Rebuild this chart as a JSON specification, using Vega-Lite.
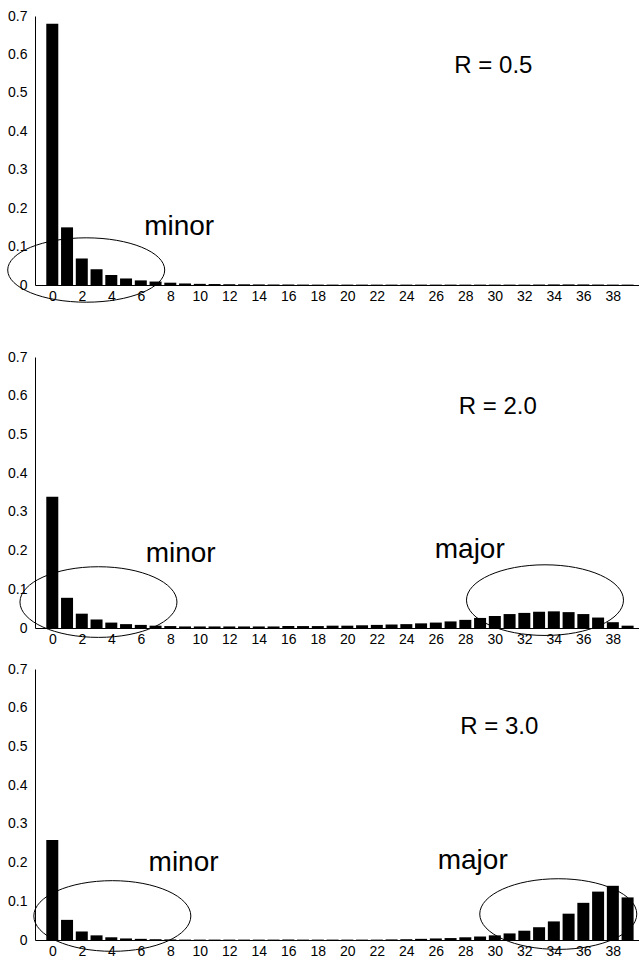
{
"$schema":"https://vega.github.io/schema/vega-lite/v6.json",
"padding":{"left":5,"top":9,"right":0,"bottom":0},
"background":"white",
"config":{"view":{"stroke":null},"font":"Liberation Sans",
 "axis":{"domainColor":"black","domainWidth":1,"labelColor":"black","labelFont":"Liberation Sans","labelFontSize":14,"ticks":false,"tickSize":0,"grid":false,"labelFlush":false,"labelOverlap":false},
 "axisX":{"labelPadding":4},"axisY":{"labelPadding":8}},
"datasets":{
"bars":[
{"R":"0.5","k":0,"p":0.68},{"R":"0.5","k":1,"p":0.150},{"R":"0.5","k":2,"p":0.069},{"R":"0.5","k":3,"p":0.041},{"R":"0.5","k":4,"p":0.026},{"R":"0.5","k":5,"p":0.017},{"R":"0.5","k":6,"p":0.012},{"R":"0.5","k":7,"p":0.009},{"R":"0.5","k":8,"p":0.006},{"R":"0.5","k":9,"p":0.004},
{"R":"0.5","k":10,"p":0.003},{"R":"0.5","k":11,"p":0.0025},{"R":"0.5","k":12,"p":0.002},{"R":"0.5","k":13,"p":0.0018},{"R":"0.5","k":14,"p":0.0015},{"R":"0.5","k":15,"p":0.0013},{"R":"0.5","k":16,"p":0.0012},{"R":"0.5","k":17,"p":0.0011},{"R":"0.5","k":18,"p":0.001},{"R":"0.5","k":19,"p":0.001},
{"R":"0.5","k":20,"p":0.001},{"R":"0.5","k":21,"p":0.001},{"R":"0.5","k":22,"p":0.001},{"R":"0.5","k":23,"p":0.001},{"R":"0.5","k":24,"p":0.001},{"R":"0.5","k":25,"p":0.001},{"R":"0.5","k":26,"p":0.001},{"R":"0.5","k":27,"p":0.001},{"R":"0.5","k":28,"p":0.001},{"R":"0.5","k":29,"p":0.001},
{"R":"0.5","k":30,"p":0.001},{"R":"0.5","k":31,"p":0.001},{"R":"0.5","k":32,"p":0.001},{"R":"0.5","k":33,"p":0.0012},{"R":"0.5","k":34,"p":0.0015},{"R":"0.5","k":35,"p":0.0015},{"R":"0.5","k":36,"p":0.0015},{"R":"0.5","k":37,"p":0.0012},{"R":"0.5","k":38,"p":0.001},{"R":"0.5","k":39,"p":0.001},
{"R":"2.0","k":0,"p":0.339},{"R":"2.0","k":1,"p":0.078},{"R":"2.0","k":2,"p":0.037},{"R":"2.0","k":3,"p":0.022},{"R":"2.0","k":4,"p":0.014},{"R":"2.0","k":5,"p":0.010},{"R":"2.0","k":6,"p":0.008},{"R":"2.0","k":7,"p":0.006},{"R":"2.0","k":8,"p":0.005},{"R":"2.0","k":9,"p":0.004},
{"R":"2.0","k":10,"p":0.004},{"R":"2.0","k":11,"p":0.004},{"R":"2.0","k":12,"p":0.004},{"R":"2.0","k":13,"p":0.004},{"R":"2.0","k":14,"p":0.004},{"R":"2.0","k":15,"p":0.004},{"R":"2.0","k":16,"p":0.005},{"R":"2.0","k":17,"p":0.005},{"R":"2.0","k":18,"p":0.005},{"R":"2.0","k":19,"p":0.006},
{"R":"2.0","k":20,"p":0.006},{"R":"2.0","k":21,"p":0.007},{"R":"2.0","k":22,"p":0.008},{"R":"2.0","k":23,"p":0.009},{"R":"2.0","k":24,"p":0.010},{"R":"2.0","k":25,"p":0.012},{"R":"2.0","k":26,"p":0.014},{"R":"2.0","k":27,"p":0.017},{"R":"2.0","k":28,"p":0.021},{"R":"2.0","k":29,"p":0.026},
{"R":"2.0","k":30,"p":0.031},{"R":"2.0","k":31,"p":0.036},{"R":"2.0","k":32,"p":0.039},{"R":"2.0","k":33,"p":0.042},{"R":"2.0","k":34,"p":0.043},{"R":"2.0","k":35,"p":0.041},{"R":"2.0","k":36,"p":0.036},{"R":"2.0","k":37,"p":0.027},{"R":"2.0","k":38,"p":0.015},{"R":"2.0","k":39,"p":0.006},
{"R":"3.0","k":0,"p":0.258},{"R":"3.0","k":1,"p":0.052},{"R":"3.0","k":2,"p":0.022},{"R":"3.0","k":3,"p":0.012},{"R":"3.0","k":4,"p":0.007},{"R":"3.0","k":5,"p":0.004},{"R":"3.0","k":6,"p":0.003},{"R":"3.0","k":7,"p":0.002},{"R":"3.0","k":8,"p":0.0015},{"R":"3.0","k":9,"p":0.001},
{"R":"3.0","k":10,"p":0.001},{"R":"3.0","k":11,"p":0.001},{"R":"3.0","k":12,"p":0.001},{"R":"3.0","k":13,"p":0.001},{"R":"3.0","k":14,"p":0.001},{"R":"3.0","k":15,"p":0.001},{"R":"3.0","k":16,"p":0.001},{"R":"3.0","k":17,"p":0.001},{"R":"3.0","k":18,"p":0.001},{"R":"3.0","k":19,"p":0.001},
{"R":"3.0","k":20,"p":0.001},{"R":"3.0","k":21,"p":0.001},{"R":"3.0","k":22,"p":0.001},{"R":"3.0","k":23,"p":0.0015},{"R":"3.0","k":24,"p":0.002},{"R":"3.0","k":25,"p":0.003},{"R":"3.0","k":26,"p":0.004},{"R":"3.0","k":27,"p":0.005},{"R":"3.0","k":28,"p":0.007},{"R":"3.0","k":29,"p":0.009},
{"R":"3.0","k":30,"p":0.012},{"R":"3.0","k":31,"p":0.017},{"R":"3.0","k":32,"p":0.024},{"R":"3.0","k":33,"p":0.033},{"R":"3.0","k":34,"p":0.048},{"R":"3.0","k":35,"p":0.068},{"R":"3.0","k":36,"p":0.096},{"R":"3.0","k":37,"p":0.125},{"R":"3.0","k":38,"p":0.14},{"R":"3.0","k":39,"p":0.11}
],
"ell":[
{"R":"0.5","k":2.3,"p":0.039},
{"R":"2.0","k":3.13,"p":0.067},
{"R":"2.0","k":33.4,"p":0.072},
{"R":"3.0","k":4.07,"p":0.062},
{"R":"3.0","k":34.3,"p":0.067}
],
"txt":[
{"R":"0.5","kind":"R","k":29.9,"p":0.552,"label":"R = 0.5"},
{"R":"2.0","kind":"R","k":30.2,"p":0.553,"label":"R = 2.0"},
{"R":"3.0","kind":"R","k":30.3,"p":0.532,"label":"R = 3.0"},
{"R":"0.5","kind":"note","k":8.6,"p":0.13,"label":"minor"},
{"R":"2.0","kind":"note","k":8.7,"p":0.17,"label":"minor"},
{"R":"2.0","kind":"note","k":28.3,"p":0.18,"label":"major"},
{"R":"3.0","kind":"note","k":8.9,"p":0.178,"label":"minor"},
{"R":"3.0","kind":"note","k":28.5,"p":0.183,"label":"major"}
]
},
"spacing":16,
"vconcat":[
{"width":603.5,"height":269,
 "encoding":{"x":{"field":"k","type":"quantitative","scale":{"domain":[-0.833,39.4],"nice":false,"zero":false},"title":null,"axis":{"values":[0,2,4,6,8,10,12,14,16,18,20,22,24,26,28,30,32,34,36,38],"labelOverlap":false}},
             "y":{"field":"p","type":"quantitative","scale":{"domain":[0,0.7],"nice":false},"title":null,"axis":{"values":[0,0.1,0.2,0.3,0.4,0.5,0.6,0.7],"format":".1~f","labelOverlap":false}}},
 "layer":[
  {"data":{"name":"ell"},"transform":[{"filter":"datum.R == '0.5'"}],
   "mark":{"type":"point","shape":"M-1,0A1,0.41,0,1,0,1,0A1,0.41,0,1,0,-1,0Z","size":24650,"filled":false,"color":"black","strokeWidth":1,"opacity":1}},
  {"data":{"name":"bars"},"transform":[{"filter":"datum.R == '0.5'"}],
   "mark":{"type":"bar","width":12,"color":"black"}},
  {"data":{"name":"txt"},"transform":[{"filter":"datum.R == '0.5' && datum.kind == 'R'"}],
   "mark":{"type":"text","fontSize":24,"align":"center","baseline":"alphabetic","font":"Liberation Sans","color":"black"},
   "encoding":{"text":{"field":"label"}}},
  {"data":{"name":"txt"},"transform":[{"filter":"datum.R == '0.5' && datum.kind == 'note'"}],
   "mark":{"type":"text","fontSize":28,"align":"center","baseline":"alphabetic","font":"Liberation Sans","color":"black"},
   "encoding":{"text":{"field":"label"}}}
 ]},
{"width":603.5,"height":271,
 "title":{"text":" ","fontSize":20,"offset":9},
 "encoding":{"x":{"field":"k","type":"quantitative","scale":{"domain":[-0.833,39.4],"nice":false,"zero":false},"title":null,"axis":{"values":[0,2,4,6,8,10,12,14,16,18,20,22,24,26,28,30,32,34,36,38],"labelOverlap":false}},
             "y":{"field":"p","type":"quantitative","scale":{"domain":[0,0.7],"nice":false},"title":null,"axis":{"values":[0,0.1,0.2,0.3,0.4,0.5,0.6,0.7],"format":".1~f","labelOverlap":false}}},
 "layer":[
  {"data":{"name":"ell"},"transform":[{"filter":"datum.R == '2.0'"}],
   "mark":{"type":"point","shape":"M-1,0A1,0.45,0,1,0,1,0A1,0.45,0,1,0,-1,0Z","size":24650,"filled":false,"color":"black","strokeWidth":1,"opacity":1}},
  {"data":{"name":"bars"},"transform":[{"filter":"datum.R == '2.0'"}],
   "mark":{"type":"bar","width":12,"color":"black"}},
  {"data":{"name":"txt"},"transform":[{"filter":"datum.R == '2.0' && datum.kind == 'R'"}],
   "mark":{"type":"text","fontSize":24,"align":"center","baseline":"alphabetic","font":"Liberation Sans","color":"black"},
   "encoding":{"text":{"field":"label"}}},
  {"data":{"name":"txt"},"transform":[{"filter":"datum.R == '2.0' && datum.kind == 'note'"}],
   "mark":{"type":"text","fontSize":28,"align":"center","baseline":"alphabetic","font":"Liberation Sans","color":"black"},
   "encoding":{"text":{"field":"label"}}}
 ]},
{"width":603.5,"height":271,
 "encoding":{"x":{"field":"k","type":"quantitative","scale":{"domain":[-0.833,39.4],"nice":false,"zero":false},"title":null,"axis":{"values":[0,2,4,6,8,10,12,14,16,18,20,22,24,26,28,30,32,34,36,38],"labelOverlap":false}},
             "y":{"field":"p","type":"quantitative","scale":{"domain":[0,0.7],"nice":false},"title":null,"axis":{"values":[0,0.1,0.2,0.3,0.4,0.5,0.6,0.7],"format":".1~f","labelOverlap":false}}},
 "layer":[
  {"data":{"name":"ell"},"transform":[{"filter":"datum.R == '3.0'"}],
   "mark":{"type":"point","shape":"M-1,0A1,0.45,0,1,0,1,0A1,0.45,0,1,0,-1,0Z","size":24650,"filled":false,"color":"black","strokeWidth":1,"opacity":1}},
  {"data":{"name":"bars"},"transform":[{"filter":"datum.R == '3.0'"}],
   "mark":{"type":"bar","width":12,"color":"black"}},
  {"data":{"name":"txt"},"transform":[{"filter":"datum.R == '3.0' && datum.kind == 'R'"}],
   "mark":{"type":"text","fontSize":24,"align":"center","baseline":"alphabetic","font":"Liberation Sans","color":"black"},
   "encoding":{"text":{"field":"label"}}},
  {"data":{"name":"txt"},"transform":[{"filter":"datum.R == '3.0' && datum.kind == 'note'"}],
   "mark":{"type":"text","fontSize":28,"align":"center","baseline":"alphabetic","font":"Liberation Sans","color":"black"},
   "encoding":{"text":{"field":"label"}}}
 ]}
]
}
